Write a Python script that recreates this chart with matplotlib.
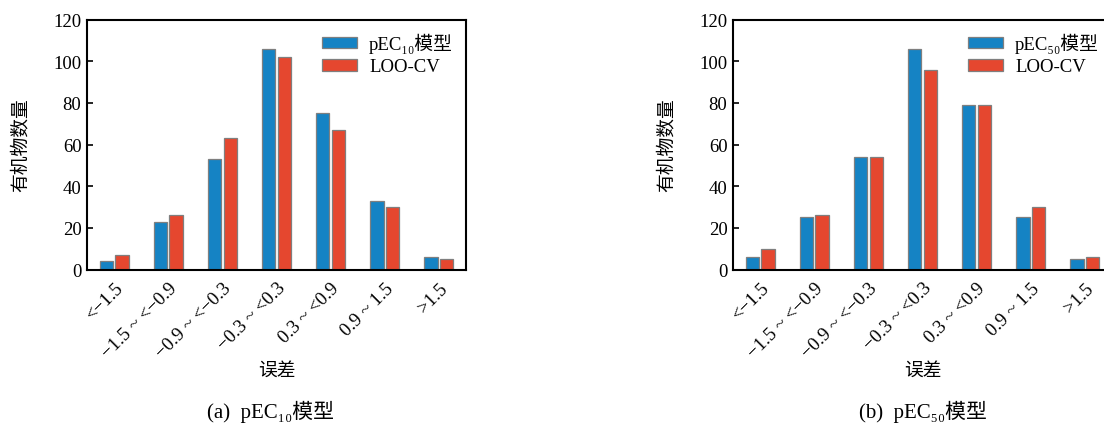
import numpy as np
import matplotlib
matplotlib.use("Agg")
import matplotlib.pyplot as plt

plt.rcParams['font.family'] = ['Liberation Serif', 'DejaVu Serif', 'Noto Sans CJK SC']

# error bins
bins = ["<−1.5", "−1.5 ~ <−0.9", "−0.9 ~ <−0.3", "−0.3 ~ <0.3",
        "0.3 ~ <0.9", "0.9 ~ 1.5", ">1.5"]

# counts per bin: model fit vs leave-one-out cross validation
pec10_model = [4, 23, 53, 106, 75, 33, 6]
pec10_loo = [7, 26, 63, 102, 67, 30, 5]
pec50_model = [6, 25, 54, 106, 79, 25, 5]
pec50_loo = [10, 26, 54, 96, 79, 30, 6]

BLUE = "#1583c4"
RED = "#e5472f"
EDGE = "#7f7f7f"
FS = 13.5

fig = plt.figure(figsize=(11.04, 4.27), dpi=100)
W, H = 1104, 427
ax_w = 379 / W
ax_b = 1 - 270.5 / H
ax_h = 250 / H
axes = [fig.add_axes([87 / W, ax_b, ax_w, ax_h]),
        fig.add_axes([733 / W, ax_b, ax_w, ax_h])]

panels = [(pec10_model, pec10_loo, "₁₀", "(a)", -6),
          (pec50_model, pec50_loo, "₅₀", "(b)", 0)]

x = np.arange(len(bins))
bw, off = 0.245, 0.146
for ax, (m, loo, sub, tag, shift) in zip(axes, panels):
    ax.bar(x - off, m, bw, color=BLUE, edgecolor=EDGE, linewidth=0.9,
           label="pEC" + sub + "模型")
    ax.bar(x + off, loo, bw, color=RED, edgecolor=EDGE, linewidth=0.9,
           label="LOO-CV")
    ax.set_xlim(-0.5, 6.5)
    ax.set_ylim(0, 120)
    ax.set_yticks(range(0, 121, 20))
    ax.set_xticks(x)
    ax.set_xticklabels(bins, rotation=45, ha="right", rotation_mode="anchor",
                       fontsize=FS)
    ax.tick_params(axis="x", length=0, pad=7)
    ax.tick_params(axis="y", direction="in", length=4, width=1.2,
                   labelsize=FS, pad=4)
    for s in ax.spines.values():
        s.set_linewidth(1.5)
    ax.set_ylabel("有机物数量", fontsize=FS, labelpad=17)
    ax.set_xlabel("误差", fontsize=FS, labelpad=1)
    ax.legend(loc="upper right", frameon=False, fontsize=FS,
              handlelength=1.85, handleheight=0.55, labelspacing=0.3,
              borderaxespad=0.3, handletextpad=0.65)
    cx = ax.get_position().x0 + ax_w / 2 + shift / W
    fig.text(cx, 1 - 412 / H, tag + "  pEC" + sub + "模型",
             ha="center", va="center", fontsize=15)

fig.savefig("out.png", dpi=100)
